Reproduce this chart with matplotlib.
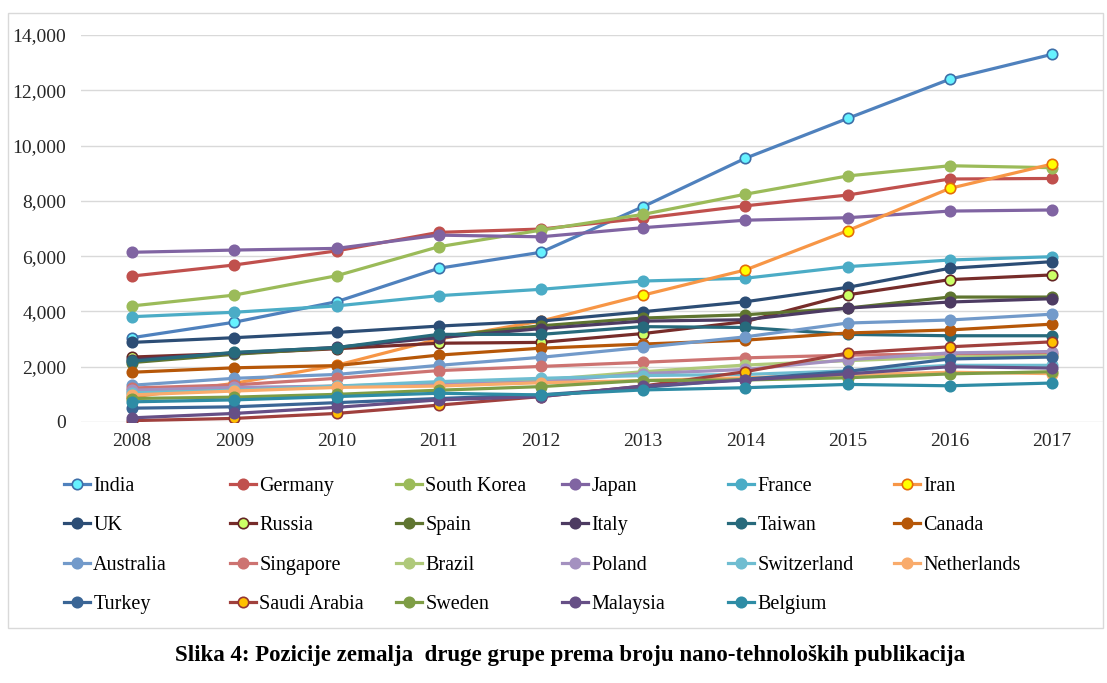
import matplotlib
matplotlib.use('Agg')
import matplotlib.pyplot as plt
from matplotlib.patches import Rectangle
from matplotlib.ticker import FuncFormatter

plt.rcParams['font.family'] = ['Liberation Serif', 'DejaVu Serif']

# broj nano-tehnoloških publikacija po godini
years = [2008, 2009, 2010, 2011, 2012, 2013, 2014, 2015, 2016, 2017]

india = [3050, 3610, 4350, 5560, 6140, 7790, 9540, 10980, 12400, 13300]
germany = [5280, 5680, 6190, 6860, 6980, 7370, 7820, 8210, 8790, 8810]
south_korea = [4200, 4590, 5290, 6340, 6940, 7510, 8240, 8900, 9270, 9200]
japan = [6140, 6220, 6280, 6760, 6700, 7030, 7300, 7390, 7630, 7670]
france = [3810, 3970, 4200, 4570, 4800, 5100, 5200, 5620, 5860, 5980]
iran = [900, 1400, 2050, 3000, 3650, 4590, 5500, 6920, 8450, 9330]
uk = [2880, 3050, 3240, 3470, 3650, 3990, 4350, 4870, 5560, 5800]
russia = [2350, 2480, 2650, 2850, 2880, 3200, 3630, 4600, 5150, 5320]
spain = [2150, 2450, 2680, 3100, 3480, 3760, 3880, 4120, 4520, 4520]
italy = [2250, 2500, 2700, 3050, 3380, 3650, 3700, 4120, 4340, 4460]
taiwan = [2200, 2520, 2690, 3170, 3170, 3450, 3420, 3170, 3120, 3120]
canada = [1800, 1960, 2040, 2420, 2670, 2820, 2960, 3220, 3330, 3540]
australia = [1330, 1580, 1720, 2050, 2340, 2700, 3080, 3580, 3690, 3900]
singapore = [1230, 1340, 1580, 1860, 2010, 2160, 2320, 2420, 2460, 2450]
brazil = [1100, 1200, 1300, 1400, 1520, 1820, 2060, 2220, 2350, 2400]
poland = [1150, 1250, 1300, 1350, 1450, 1750, 1900, 2250, 2500, 2550]
switzerland = [1050, 1150, 1300, 1460, 1580, 1680, 1720, 1850, 2050, 2050]
netherlands = [980, 1120, 1250, 1300, 1420, 1500, 1600, 1700, 1800, 1750]
turkey = [500, 550, 700, 850, 980, 1250, 1550, 1830, 2280, 2350]
saudi_arabia = [50, 130, 310, 610, 920, 1300, 1820, 2490, 2720, 2900]
sweden = [850, 900, 1000, 1150, 1280, 1500, 1520, 1600, 1740, 1820]
malaysia = [150, 310, 530, 800, 920, 1300, 1520, 1740, 2000, 1950]
belgium = [730, 800, 920, 1040, 980, 1160, 1240, 1360, 1310, 1410]

countries = ['India', 'Germany', 'South Korea', 'Japan', 'France', 'Iran',
             'UK', 'Russia', 'Spain', 'Italy', 'Taiwan', 'Canada',
             'Australia', 'Singapore', 'Brazil', 'Poland', 'Switzerland', 'Netherlands',
             'Turkey', 'Saudi Arabia', 'Sweden', 'Malaysia', 'Belgium']
series = [india, germany, south_korea, japan, france, iran,
          uk, russia, spain, italy, taiwan, canada,
          australia, singapore, brazil, poland, switzerland, netherlands,
          turkey, saudi_arabia, sweden, malaysia, belgium]

# boja linije, ispuna markera, rub markera
line_colors = ['#4F81BD', '#C0504D', '#9BBB59', '#8064A2', '#4BACC6', '#F79646',
               '#2C4D75', '#772C2A', '#5F7530', '#4D3B62', '#276A7C', '#B65708',
               '#729ACA', '#CD7371', '#AFC97A', '#A491C0', '#6FBDD1', '#F9AB6B',
               '#3A6595', '#A0403D', '#7E9D45', '#664F86', '#2E8CA5']
face_colors = list(line_colors)
edge_colors = list(line_colors)
face_colors[0], edge_colors[0] = '#66F2FF', '#3D6FA8'
face_colors[5], edge_colors[5] = '#FFFF00', '#E46C0A'
face_colors[7], edge_colors[7] = '#CCFF66', '#632523'
face_colors[19], edge_colors[19] = '#FFC000', '#943634'

W, H = 1107, 683
fig = plt.figure(figsize=(W / 100, H / 100), dpi=100)

# okvir grafikona
fig.patches.append(Rectangle((8 / W, 1 - 628 / H), (1103 - 8) / W, (628 - 13) / H,
                             transform=fig.transFigure, fill=False,
                             edgecolor='#D9D9D9', linewidth=1.0))

ax = fig.add_axes([81 / W, 1 - 422 / H, (1103 - 81) / W, (422 - 35) / H])
x = list(range(len(years)))
handles = []
for i, (name, vals) in enumerate(zip(countries, series)):
    h, = ax.plot(x, vals, color=line_colors[i], linewidth=2.3,
                 marker='o', markersize=7.5, markerfacecolor=face_colors[i],
                 markeredgecolor=edge_colors[i], markeredgewidth=1.2,
                 label=name, zorder=3 + i * 0.01)
    handles.append(h)

ax.set_xlim(-0.5, len(years) - 0.5)
ax.set_ylim(0, 14000)
ax.set_yticks(range(0, 14001, 2000))
ax.yaxis.set_major_formatter(FuncFormatter(lambda v, p: '{:,.0f}'.format(v)))
ax.set_xticks(x)
ax.set_xticklabels([str(y) for y in years])
ax.tick_params(axis='both', length=0, labelsize=14, colors='#262626')
ax.tick_params(axis='y', pad=10.5)
ax.tick_params(axis='x', pad=8)
ax.grid(axis='y', color='#D9D9D9', linewidth=1.0)
for s in ax.spines.values():
    s.set_visible(False)

# legenda u 6 stupaca, redoslijed po redovima
ncol = 6
for j in range(ncol):
    idx = list(range(j, len(countries), ncol))
    leg = fig.legend([handles[k] for k in idx], [countries[k] for k in idx],
                     loc='upper left', bbox_to_anchor=((64 + 166 * j) / W, 1 - 477 / H),
                     frameon=False, fontsize=14.5, handlelength=1.3, handletextpad=0.15,
                     labelspacing=1.0, borderpad=0, borderaxespad=0)
    for t in leg.get_texts():
        t.set_color('#000000')

fig.text(0.515, 1 - 655 / H,
         'Slika 4: Pozicije zemalja  druge grupe prema broju nano-tehnoloških publikacija',
         ha='center', va='center', fontsize=16.5, fontweight='bold')

fig.savefig('out.png', dpi=100)
